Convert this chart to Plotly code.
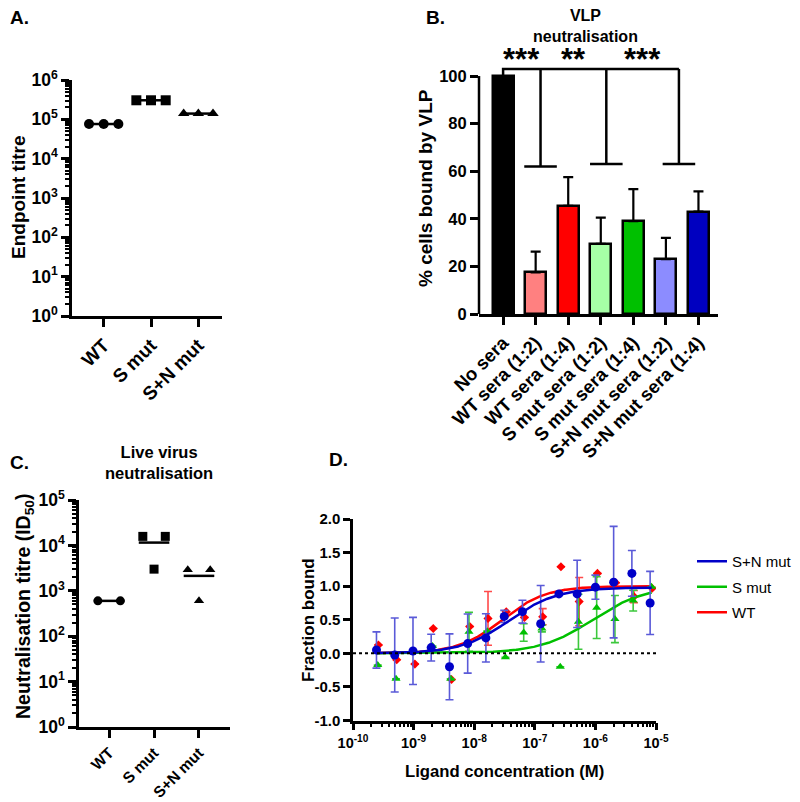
import numpy as np
import plotly.graph_objects as go

FONT = 'Liberation Sans'
OFF = 8  # the page body keeps an 8px margin round the figure
W, H = 800 - OFF, 802 - OFF

# ---- Panel A: endpoint titre (replicates per group) ----
a_groups = ['WT', 'S mut', 'S+N mut']
a_titre = [
    [7.6e4, 7.6e4, 7.6e4],
    [3.05e5, 3.05e5, 3.05e5],
    [1.4e5, 1.4e5, 1.4e5],
]

# ---- Panel B: VLP neutralisation ----
b_groups = ['No sera', 'WT sera (1:2)', 'WT sera (1:4)', 'S mut sera (1:2)',
            'S mut sera (1:4)', 'S+N mut sera (1:2)', 'S+N mut sera (1:4)']
b_mean = [100, 17.5, 45.5, 29.5, 39.0, 23.0, 43.0]
b_err = [0, 8.7, 12.0, 11.0, 13.5, 9.0, 8.5]
b_colors = ['#000000', '#ff8080', '#ff0000', '#a6ffa6', '#00c000', '#8c8cff', '#0000c0']
b_stars = ['***', '**', '***']

# ---- Panel C: live virus neutralisation ----
c_groups = ['WT', 'S mut', 'S+N mut']
c_titre = [
    [600, 600],
    [1.58e4, 3.0e3, 1.58e4],
    [2.9e3, 6.0e2, 2.9e3],
]

# ---- Panel D: binding curves ----
d_conc_sn = [2.44e-10, 4.88e-10, 9.77e-10, 1.95e-9, 3.91e-9, 7.81e-9, 1.56e-8, 3.13e-8,
             6.25e-8, 1.25e-7, 2.5e-7, 5e-7, 1e-6, 2e-6, 4e-6, 8e-6]
d_conc_s = [2.56e-10, 5.13e-10, 1.03e-9, 2.05e-9, 4.1e-9, 8.2e-9, 1.64e-8, 3.28e-8,
            6.56e-8, 1.31e-7, 2.63e-7, 5.25e-7, 1.05e-6, 2.1e-6, 4.2e-6, 8.4e-6]
d_conc_wt = [2.63e-10, 5.27e-10, 1.05e-9, 2.11e-9, 4.22e-9, 8.44e-9, 1.69e-8, 3.38e-8,
             6.75e-8, 1.35e-7, 2.7e-7, 5.4e-7, 1.08e-6, 2.16e-6, 4.32e-6, 8.64e-6]
d_sn = [0.05, -0.025, 0.035, 0.085, -0.2, 0.145, 0.23, 0.55, 0.62, 0.44, 0.885, 0.885,
        0.985, 1.06, 1.19, 0.75]
d_sn_err = [0.27, 0.55, 0.5, 0.2, 0.49, 0.44, 0.36, 0.09, 0.17, 0.57, 0, 0.5, 0.18, 0.83,
            0.34, 0.47]
d_s = [-0.175, -0.38, 0.03, 0.11, -0.38, 0.32, 0.33, -0.06, 0.31, 0.37, -0.2, 0.47, 0.68,
       0.51, 0.785, 0.99]
d_s_err = [0, 0, 0, 0, 0, 0.29, 0, 0, 0.13, 0.05, 0, 0.41, 0.46, 0.35, 0.155, 0]
d_wt = [0.125, -0.095, -0.16, 0.37, -0.39, 0.40, 0.52, 0.62, 0.535, 0.545, 1.29, 0.77,
        1.19, 1.05, 0.845, 0.97]
d_wt_err = [0, 0, 0, 0, 0, 0, 0.4, 0, 0, 0.12, 0, 0.36, 0, 0, 0.09, 0]
# fitted curve params: top, EC50, hill slope
d_fit_sn = (0.98, 3.8e-8, 1.1)
d_fit_s = (1.0, 9.0e-7, 1.0)
d_fit_wt = (1.0, 2.9e-8, 1.2)
d_yticks = ['-1.0', '-0.5', '0.0', '0.5', '1.0', '1.5', '2.0']


def px(x):
    return (x - OFF) / W


def py(y):
    return 1 - (y - OFF) / H


def bfont(size):
    return dict(family=FONT, size=size, color='black', weight='bold')


fig = go.Figure()

axis_common = dict(showline=True, linecolor='black', linewidth=2.5, ticks='outside',
                   tickwidth=2.5, tickcolor='black', ticklen=8, showgrid=False,
                   zeroline=False, automargin=False)

# ---- A ----
a_symbols = ['circle', 'square', 'triangle-up']
a_offsets = [-0.31, 0, 0.31]
for i, vals in enumerate(a_titre):
    xs = [i + o for o in a_offsets]
    fig.add_trace(go.Scatter(x=xs, y=vals, mode='lines+markers', xaxis='x', yaxis='y',
                             line=dict(color='black', width=2.5),
                             marker=dict(symbol=a_symbols[i], size=10, color='black'),
                             showlegend=False))

# ---- B ----
fig.add_trace(go.Bar(x=list(range(len(b_groups))), y=b_mean, xaxis='x2', yaxis='y2',
                     width=0.64, marker=dict(color=b_colors, line=dict(color='black', width=2.5)),
                     error_y=dict(type='data', array=b_err, arrayminus=[0] * len(b_err),
                                  symmetric=False, color='black', thickness=2.2, width=5),
                     showlegend=False))
br_x = [1.15, 3.17, 5.4]
br_lvl = [62, 63, 63]
bx, by = [0, 0, br_x[-1], None], [100, 103, 103, None]
for vx, lv in zip(br_x, br_lvl):
    bx += [vx, vx, None, vx - 0.5, vx + 0.5, None]
    by += [103, lv, None, lv, lv, None]
fig.add_trace(go.Scatter(x=bx, y=by, mode='lines', xaxis='x2', yaxis='y2',
                         line=dict(color='black', width=2.5), showlegend=False))
star_x = [(a + b) / 2 for a, b in zip([0] + br_x[:-1], br_x)]

# ---- C ----
c_offsets = {2: [-0.25, 0.25], 3: [-0.25, 0, 0.25]}
for i, vals in enumerate(c_titre):
    xs = [i + o for o in c_offsets[len(vals)]]
    fig.add_trace(go.Scatter(x=xs, y=vals, mode='markers', xaxis='x3', yaxis='y3',
                             marker=dict(symbol=a_symbols[i], size=9, color='black'),
                             showlegend=False))
    mean = np.mean(vals)
    fig.add_trace(go.Scatter(x=[i - 0.34, i + 0.34], y=[mean, mean], mode='lines',
                             xaxis='x3', yaxis='y3', line=dict(color='black', width=2.5),
                             showlegend=False))

# ---- D ----
series = [
    ('WT', d_conc_wt, d_wt, d_wt_err, d_fit_wt, '#ff0000', '#ff4a4a', 'diamond', 7, 3),
    ('S mut', d_conc_s, d_s, d_s_err, d_fit_s, '#00c000', '#3cc83c', 'triangle-up', 8, 2),
    ('S+N mut', d_conc_sn, d_sn, d_sn_err, d_fit_sn, '#0000c8', '#5a5ad8', 'circle', 9, 1),
]
xfit = np.logspace(np.log10(2.4e-10), np.log10(8.5e-6), 300)
for name, xc, yv, ye, (top, ec50, hill), col, ecol, sym, msize, rank in series:
    fig.add_trace(go.Scatter(x=xc, y=yv, mode='markers', xaxis='x4', yaxis='y4',
                             marker=dict(symbol=sym, size=msize, color=col),
                             error_y=dict(type='data', array=ye, color=ecol, thickness=1.6, width=4),
                             showlegend=False))
    yfit = top * xfit ** hill / (ec50 ** hill + xfit ** hill)
    fig.add_trace(go.Scatter(x=xfit, y=yfit, mode='lines', xaxis='x4', yaxis='y4', name=name,
                             line=dict(color=col, width=2.5), legendrank=rank,
                             legendgroup=name))

log_minor_a = [m * 10 ** e for e in range(0, 6) for m in range(2, 10)]
log_minor_c = [m * 10 ** e for e in range(0, 5) for m in range(2, 10)]
log_minor_d = [m * 10.0 ** e for e in range(-10, -5) for m in range(2, 10)]

fig.update_layout(
    width=W, height=H, margin=dict(l=0, r=0, t=0, b=0, autoexpand=False),
    plot_bgcolor='white', paper_bgcolor='white',
    font=dict(family=FONT, color='black', size=16),
    bargap=0,
    xaxis=dict(axis_common, domain=[px(72), px(222)], range=[-0.67, 2.5], anchor='y',
               tickvals=[0, 1, 2], ticktext=a_groups, tickangle=-45, tickfont=bfont(19)),
    yaxis=dict(axis_common, domain=[py(316), py(80)], type='log', range=[0, 6], anchor='x',
               tickvals=[10 ** e for e in range(7)], tickfont=bfont(17.5),
               ticktext=['10<sup>%d</sup>' % e for e in range(7)],
               minor=dict(tickvals=log_minor_a, ticks='outside', ticklen=4, tickwidth=2,
                          tickcolor='black')),
    xaxis2=dict(axis_common, domain=[px(479), px(718)], range=[-0.74, 6.6], anchor='y2',
                tickvals=list(range(len(b_groups))), ticktext=b_groups, tickangle=-45,
                tickfont=bfont(18.5)),
    yaxis2=dict(axis_common, domain=[py(314), py(57)], range=[0, 108], anchor='x2',
                showline=False, tickvals=[0, 20, 40, 60, 80, 100], tickfont=bfont(16.5)),
    xaxis3=dict(axis_common, domain=[px(79), px(230)], range=[-0.67, 2.69], anchor='y3',
                tickvals=[0, 1, 2], ticktext=c_groups, tickangle=-45, tickfont=bfont(15.5)),
    yaxis3=dict(axis_common, domain=[py(727), py(500)], type='log', range=[0, 5], anchor='x3',
                tickvals=[10 ** e for e in range(6)], tickfont=bfont(17.5),
                ticktext=['10<sup>%d</sup>' % e for e in range(6)],
                minor=dict(tickvals=log_minor_c, ticks='outside', ticklen=4, tickwidth=2,
                           tickcolor='black')),
    xaxis4=dict(axis_common, domain=[px(353), px(656)], type='log', range=[-10, -5],
                anchor='y4', tickvals=[10.0 ** e for e in range(-10, -4)], tickfont=bfont(14.5),
                ticktext=['10<sup>%d</sup>' % e for e in range(-10, -4)], ticklen=7,
                minor=dict(tickvals=log_minor_d, ticks='outside', ticklen=4, tickwidth=2,
                           tickcolor='black')),
    yaxis4=dict(axis_common, domain=[py(720.5), py(519)], range=[-1, 2], anchor='x4',
                tickvals=[-1, -0.5, 0, 0.5, 1, 1.5, 2], ticktext=d_yticks, ticklen=7,
                tickfont=bfont(15)),
    legend=dict(x=px(692), y=py(545), xanchor='left', yanchor='top',
                font=dict(family=FONT, size=15, color='black'), bgcolor='rgba(0,0,0,0)',
                traceorder='grouped', tracegroupgap=3),
)

# y axis line of B stops at 100
fig.add_shape(type='line', xref='x2 domain', yref='y2', x0=0, x1=0, y0=0, y1=100,
              line=dict(color='black', width=2.5))
# dotted baseline in D
fig.add_shape(type='line', xref='x4 domain', yref='y4', x0=0, x1=1, y0=0, y1=0,
              line=dict(color='black', width=2, dash='dot'))

ann = []
for s, x in zip(b_stars, star_x):
    ann.append(dict(text=s, x=x, y=107, xref='x2', yref='y2', showarrow=False,
                    font=bfont(31)))
# texts that sit on the very edge of the reference are nudged inside the figure
texts = [
    ('A.', 8, 17, 0, 'left', 19), ('B.', 424, 17, 0, 'left', 19),
    ('C.', 8, 462, 0, 'left', 19), ('D.', 327, 460, 0, 'left', 19),
    ('VLP<br>neutralisation', 585, 26, 0, 'center', 16),
    ('Live virus<br>neutralisation', 159, 462, 0, 'center', 16.5),
    ('Endpoint titre', 19, 198, -90, 'center', 19),
    ('% cells bound by VLP', 425, 188, -90, 'center', 19),
    ('Neutralisation titre (ID<sub>50</sub>)', 24, 607, -90, 'center', 19.5),
    ('Fraction bound', 308, 620, -90, 'center', 17),
    ('Ligand concentration (M)', 505, 771, 0, 'center', 16.7),
]
for t, x, y, ang, xa, size in texts:
    ann.append(dict(text=t, x=px(x), y=py(y), xref='paper', yref='paper', showarrow=False,
                    textangle=ang, xanchor=xa, yanchor='middle', font=bfont(size)))
fig.update_layout(annotations=ann)

fig.write_html("out.html")
